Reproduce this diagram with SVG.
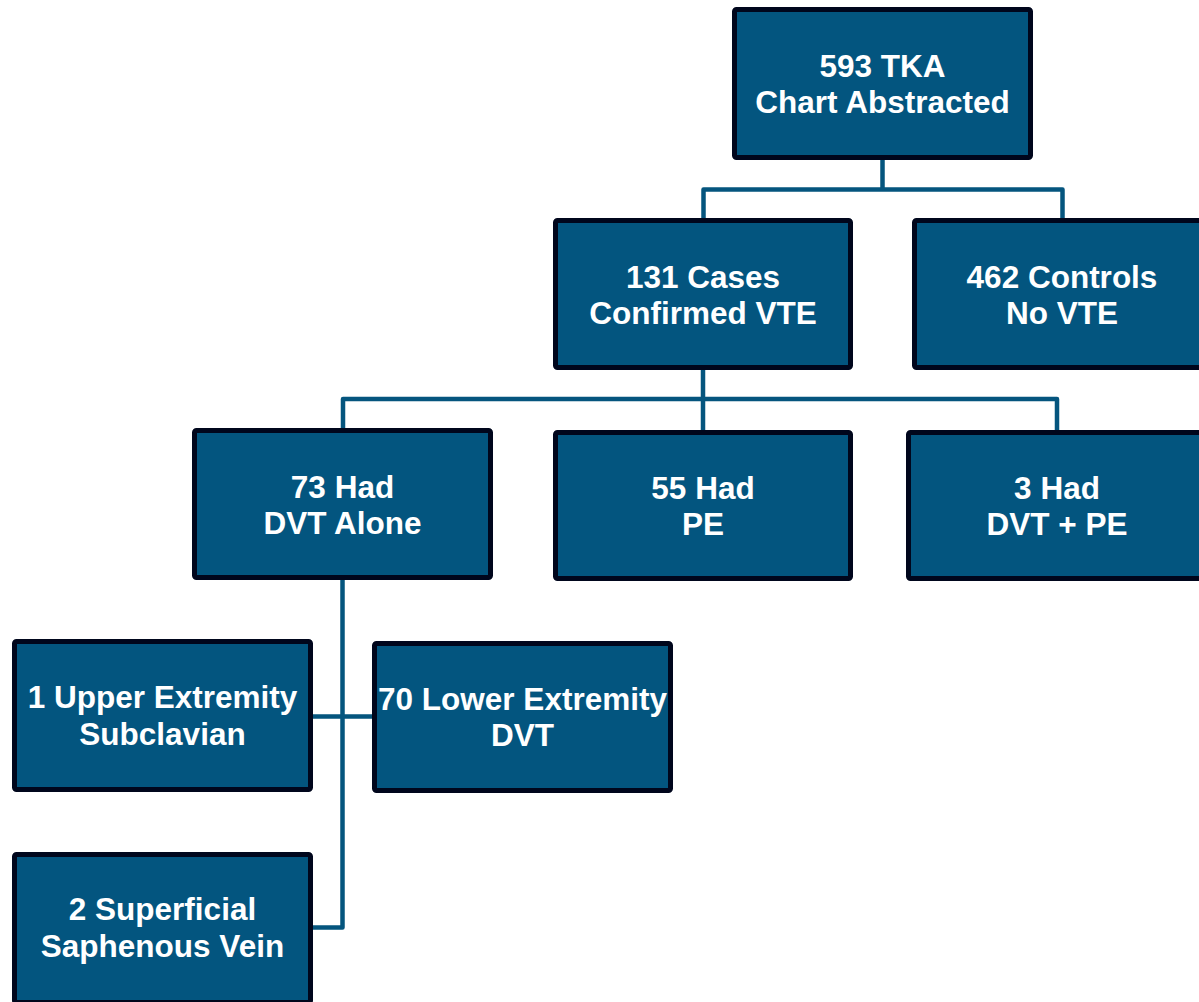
<svg xmlns="http://www.w3.org/2000/svg" width="1199" height="1002" viewBox="0 0 1199 1002">
  <style>
    .box { fill: #03557F; stroke: #00061C; stroke-width: 5; }
    .lbl { font-family: "Liberation Sans", Arial, sans-serif; font-weight: bold; font-size: 31.5px; fill: #FFFFFF; text-anchor: middle; }
    .conn { fill: none; stroke: #05557E; stroke-width: 4.5; stroke-linejoin: round; stroke-linecap: butt; }
  </style>
  <rect width="1199" height="1002" fill="#FFFFFF"/>
  <g id="connectors">
    <path class="conn" d="M882.5 160 V189.5 M703.5 218 V189.5 H1062.5 V218"/>
    <path class="conn" d="M703 370 V399 M343 428 V399 H1057 V430 M703 399 V430"/>
    <path class="conn" d="M342.5 580 V927.5 H313 M313 716.5 H372"/>
  </g>
  <g id="n-top">
    <rect class="box" x="734.5" y="9.5" width="296" height="148" rx="2"/>
    <text class="lbl" x="882.5" y="77">593 TKA</text>
    <text class="lbl" x="882.5" y="113">Chart Abstracted</text>
  </g>
  <g id="n-cases">
    <rect class="box" x="555.5" y="220.5" width="295" height="147" rx="2"/>
    <text class="lbl" x="703" y="288">131 Cases</text>
    <text class="lbl" x="703" y="324">Confirmed VTE</text>
  </g>
  <g id="n-controls">
    <rect class="box" x="914.5" y="220.5" width="295" height="147" rx="2"/>
    <text class="lbl" x="1062" y="288">462 Controls</text>
    <text class="lbl" x="1062" y="324">No VTE</text>
  </g>
  <g id="n-dvt-alone">
    <rect class="box" x="194.5" y="430.5" width="296" height="147" rx="2"/>
    <text class="lbl" x="342.5" y="498">73 Had</text>
    <text class="lbl" x="342.5" y="534">DVT Alone</text>
  </g>
  <g id="n-pe">
    <rect class="box" x="555.5" y="432.5" width="295" height="146" rx="2"/>
    <text class="lbl" x="703" y="499">55 Had</text>
    <text class="lbl" x="703" y="535">PE</text>
  </g>
  <g id="n-dvt-pe">
    <rect class="box" x="908.5" y="432.5" width="297" height="146" rx="2"/>
    <text class="lbl" x="1057" y="499">3 Had</text>
    <text class="lbl" x="1057" y="535">DVT + PE</text>
  </g>
  <g id="n-upper">
    <rect class="box" x="14.5" y="641.5" width="296" height="148" rx="2"/>
    <text class="lbl" x="162.5" y="708">1 Upper Extremity</text>
    <text class="lbl" x="162.5" y="745">Subclavian</text>
  </g>
  <g id="n-lower">
    <rect class="box" x="374.5" y="643.5" width="296" height="147" rx="2"/>
    <text class="lbl" x="522.5" y="710">70 Lower Extremity</text>
    <text class="lbl" x="522.5" y="746">DVT</text>
  </g>
  <g id="n-superficial">
    <rect class="box" x="14.5" y="854.5" width="296" height="148" rx="2"/>
    <text class="lbl" x="162.5" y="920">2 Superficial</text>
    <text class="lbl" x="162.5" y="957">Saphenous Vein</text>
  </g>
</svg>
